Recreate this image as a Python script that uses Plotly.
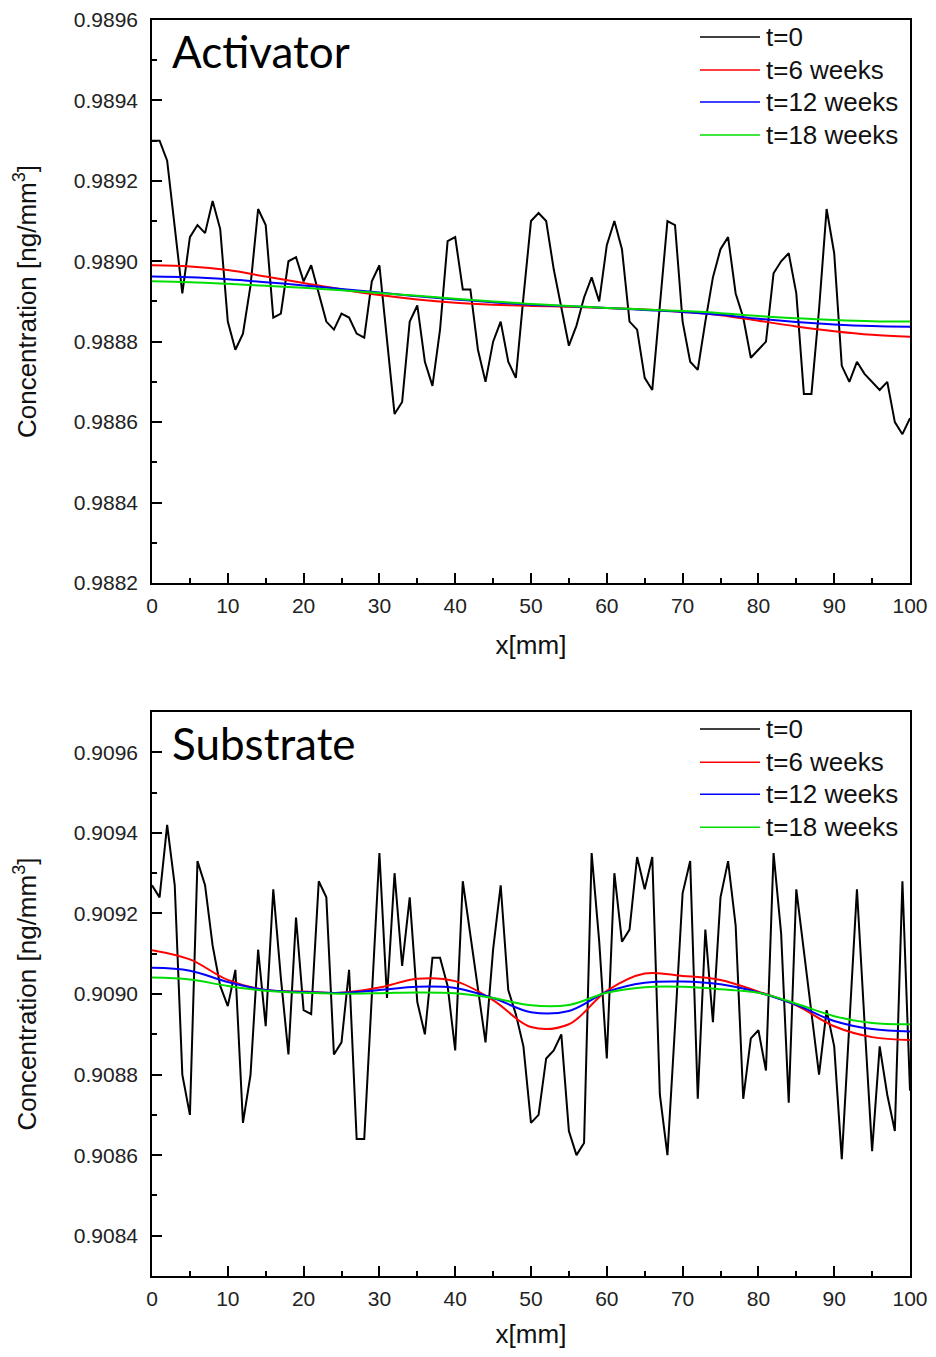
import plotly.graph_objects as go

# ---------------- data ----------------
x_raw = list(range(0, 101))
x_fit = list(range(0, 101, 5))

act_t0 = [0.98930, 0.98930, 0.98925, 0.98908, 0.98892, 0.98906, 0.98909, 0.98907, 0.98915, 0.98908,
          0.98885, 0.98878, 0.98882, 0.98894, 0.98913, 0.98909, 0.98886, 0.98887, 0.98900, 0.98901,
          0.98895, 0.98899, 0.98892, 0.98885, 0.98883, 0.98887, 0.98886, 0.98882, 0.98881, 0.98895,
          0.98899, 0.98880, 0.98862, 0.98865, 0.98885, 0.98889, 0.98875, 0.98869, 0.98883, 0.98905,
          0.98906, 0.98893, 0.98893, 0.98878, 0.98870, 0.98880, 0.98885, 0.98875, 0.98871, 0.98891,
          0.98910, 0.98912, 0.98910, 0.98898, 0.98888, 0.98879, 0.98884, 0.98891, 0.98896, 0.98890,
          0.98904, 0.98910, 0.98903, 0.98885, 0.98883, 0.98871, 0.98868, 0.98889, 0.98910, 0.98909,
          0.98885, 0.98875, 0.98873, 0.98885, 0.98896, 0.98903, 0.98906, 0.98892, 0.98886, 0.98876,
          0.98878, 0.98880, 0.98897, 0.98900, 0.98902, 0.98892, 0.98867, 0.98867, 0.98888, 0.98913,
          0.98902, 0.98874, 0.98870, 0.98875, 0.98872, 0.98870, 0.98868, 0.98870, 0.98860, 0.98857,
          0.98861]
act_t6 = [0.988990, 0.988987, 0.988978, 0.988962, 0.988946, 0.988930, 0.988916, 0.988905, 0.988897,
          0.988892, 0.988889, 0.988887, 0.988884, 0.988880, 0.988874, 0.988866, 0.988852, 0.988838,
          0.988826, 0.988817, 0.988812]
act_t12 = [0.988962, 0.988960, 0.988955, 0.988948, 0.988940, 0.988931, 0.988922, 0.988913, 0.988905,
           0.988898, 0.988892, 0.988888, 0.988884, 0.988879, 0.988874, 0.988867, 0.988857, 0.988849,
           0.988843, 0.988839, 0.988837]
act_t18 = [0.988950, 0.988948, 0.988944, 0.988939, 0.988934, 0.988928, 0.988921, 0.988914, 0.988907,
           0.988900, 0.988894, 0.988889, 0.988884, 0.988880, 0.988876, 0.988871, 0.988864, 0.988858,
           0.988854, 0.988851, 0.988850]

sub_t0 = [0.90927, 0.90924, 0.90942, 0.90927, 0.90880, 0.90870, 0.90933, 0.90927, 0.90912, 0.90902,
          0.90897, 0.90906, 0.90868, 0.90880, 0.90911, 0.90892, 0.90926, 0.90904, 0.90885, 0.90919,
          0.90896, 0.90895, 0.90928, 0.90924, 0.90885, 0.90888, 0.90906, 0.90864, 0.90864, 0.90898,
          0.90935, 0.90899, 0.90930, 0.90907, 0.90924, 0.90898, 0.90890, 0.90909, 0.90909, 0.90902,
          0.90886, 0.90928, 0.90915, 0.90901, 0.90888, 0.90911, 0.90927, 0.90901, 0.90895, 0.90887,
          0.90868, 0.90870, 0.90884, 0.90886, 0.90890, 0.90866, 0.90860, 0.90863, 0.90935, 0.90913,
          0.90884, 0.90930, 0.90913, 0.90916, 0.90934, 0.90926, 0.90934, 0.90875, 0.90860, 0.90892,
          0.90925, 0.90933, 0.90874, 0.90916, 0.90893, 0.90924, 0.90933, 0.90917, 0.90874, 0.90889,
          0.90891, 0.90881, 0.90935, 0.90915, 0.90873, 0.90926, 0.90911, 0.90895, 0.90880, 0.90896,
          0.90887, 0.90859, 0.90893, 0.90926, 0.90893, 0.90861, 0.90887, 0.90875, 0.90866, 0.90928,
          0.90876]
sub_t6 = [0.909109, 0.909086, 0.909035, 0.909010, 0.909006, 0.909003, 0.909016, 0.909038, 0.909032,
          0.908985, 0.908918, 0.908925, 0.909008, 0.909051, 0.909045, 0.909035, 0.909006, 0.908972,
          0.908920, 0.908893, 0.908886]
sub_t12 = [0.909065, 0.909058, 0.909030, 0.909010, 0.909005, 0.909003, 0.909010, 0.909018, 0.909015,
           0.908990, 0.908955, 0.908958, 0.909005, 0.909028, 0.909031, 0.909024, 0.909004, 0.908973,
           0.908933, 0.908913, 0.908907]
sub_t18 = [0.909041, 0.909036, 0.909020, 0.909008, 0.909003, 0.909001, 0.909002, 0.909004, 0.909002,
           0.908990, 0.908972, 0.908973, 0.909003, 0.909017, 0.909018, 0.909012, 0.909003, 0.908976,
           0.908945, 0.908928, 0.908925]

series_names = ["t=0", "t=6 weeks", "t=12 weeks", "t=18 weeks"]
series_colors = ["#000000", "#ff0000", "#0000ff", "#00dd00"]
panel_titles = ["Activator", "Substrate"]

# ---------------- figure ----------------
fig = go.Figure()

panels = [
    ("x", "y", [act_t0, act_t6, act_t12, act_t18]),
    ("x2", "y2", [sub_t0, sub_t6, sub_t12, sub_t18]),
]
for xa, ya, data in panels:
    for i, (nm, col, ys) in enumerate(zip(series_names, series_colors, data)):
        xs = x_raw if i == 0 else x_fit
        fig.add_trace(go.Scatter(
            x=xs, y=ys, name=nm, mode="lines", xaxis=xa, yaxis=ya,
            line=dict(color=col, width=2, shape="linear" if i == 0 else "spline"),
            showlegend=False,
        ))

tickfont = dict(family="Liberation Sans, Arial", size=21, color="#222")
titlefont = dict(family="Liberation Sans, Arial", size=26, color="#111")

def xaxis_cfg(anchor):
    return dict(
        anchor=anchor, domain=[0, 1], range=[0, 100], dtick=10, tick0=0,
        automargin=False,
        showline=True, linecolor="black", linewidth=1.5, mirror=True,
        ticks="inside", ticklen=10, tickwidth=1.5, tickcolor="black",
        minor=dict(ticks="inside", ticklen=5, tickwidth=1.5, tickcolor="black", dtick=5),
        showgrid=False, zeroline=False, tickfont=tickfont, ticklabelstandoff=3,
        title=dict(text="x[mm]", font=titlefont, standoff=20),
    )

def yaxis_cfg(anchor, domain, rng, t0):
    return dict(
        anchor=anchor, domain=domain, range=rng, dtick=0.0002, tick0=t0,
        tickformat=".4f", automargin=False,
        showline=True, linecolor="black", linewidth=1.5, mirror=True,
        ticks="inside", ticklen=10, tickwidth=1.5, tickcolor="black",
        minor=dict(ticks="inside", ticklen=5, tickwidth=1.5, tickcolor="black", dtick=0.0001),
        showgrid=False, zeroline=False, tickfont=tickfont, ticklabelstandoff=8,
        title=dict(text="Concentration [ng/mm<sup>3</sup>]", font=titlefont, standoff=30),
    )

# page body has an 8px default margin: figure is 920x1341 placed at (8, 8)
fig.update_layout(
    width=920, height=1341,
    margin=dict(l=144, r=18, t=12, b=73),
    plot_bgcolor="white", paper_bgcolor="white",
    xaxis=xaxis_cfg("y"),
    yaxis=yaxis_cfg("x", [0.5518, 1.0], [0.9882, 0.9896], 0.9882),
    xaxis2=xaxis_cfg("y2"),
    yaxis2=yaxis_cfg("x2", [0.0, 0.4490], [0.9083, 0.9097], 0.9084),
)

# panel titles and manual legends
legend_rows_px = [17, 50, 82, 115]  # offsets from panel top (px)
panel_h = 563.0
panel_w = 758.0
for k, (xr, yr) in enumerate([("x domain", "y domain"), ("x2 domain", "y2 domain")]):
    fig.add_annotation(
        text=panel_titles[k], xref=xr, yref=yr, x=18 / panel_w, y=1 - 31 / panel_h,
        xanchor="left", yanchor="middle", showarrow=False,
        font=dict(family="Lato, Open Sans", size=44, color="black"),
    )
    for j, (nm, col) in enumerate(zip(series_names, series_colors)):
        yy = 1 - legend_rows_px[j] / panel_h
        fig.add_shape(
            type="line", xref=xr, yref=yr,
            x0=(700 - 152) / panel_w, x1=(760 - 152) / panel_w, y0=yy, y1=yy,
            line=dict(color=col, width=1.5),
        )
        fig.add_annotation(
            text=nm, xref=xr, yref=yr, x=(764 - 152) / panel_w, y=yy,
            xanchor="left", yanchor="middle", showarrow=False,
            font=dict(family="Liberation Sans, Arial", size=26, color="#111"),
        )

fig.write_html("out.html")
